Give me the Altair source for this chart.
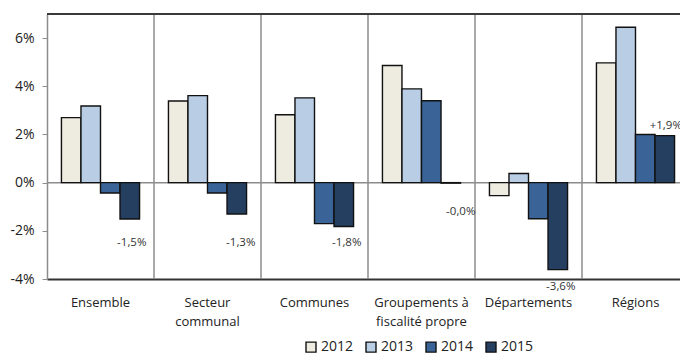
import altair as alt
import pandas as pd

categories = ["Ensemble", "Secteur communal", "Communes",
              "Groupements à fiscalité propre", "Départements", "Régions"]
two_line = {"Secteur communal": ["Secteur", "communal"],
            "Groupements à fiscalité propre": ["Groupements à", "fiscalité propre"]}
years = ["2012", "2013", "2014", "2015"]
v2012 = [2.70, 3.39, 2.82, 4.86, -0.54, 4.97]
v2013 = [3.18, 3.61, 3.52, 3.89, 0.38, 6.45]
v2014 = [-0.43, -0.43, -1.70, 3.40, -1.50, 2.00]
v2015 = [-1.51, -1.30, -1.82, -0.02, -3.61, 1.95]
colors = ["#EEECE1", "#B9CDE5", "#3A6497", "#243F60"]

label_text = ["-1,5%", "-1,3%", "-1,8%", "-0,0%", "-3,6%", "+1,9%"]
label_y = [-2.5, -2.5, -2.5, -1.22, -4.33, 2.37]
label_dx = [2, 4, 3, 10, 3, 1]

FONT = "Open Sans"
W, H = 633, 265
STEP_RANGE = 642
P_IN = 0.27
P_OUT = P_IN / 2

rows = []
for yr, vals in zip(years, [v2012, v2013, v2014, v2015]):
    for c, v in zip(categories, vals):
        rows.append({"cat": c, "year": yr, "v": v})
df = pd.DataFrame(rows)

lab = pd.DataFrame({"cat": categories, "year": "2015", "t": label_text,
                    "ly": label_y, "dx": label_dx})
sep = pd.DataFrame({"cat": categories[1:]})

label_expr = "datum.value"
for k, parts in two_line.items():
    label_expr = f"datum.value == '{k}' ? {parts!r} : (" + label_expr + ")"

xscale = alt.Scale(domain=categories, range=[0, STEP_RANGE],
                   paddingInner=P_IN, paddingOuter=P_OUT)
xoff_scale = alt.Scale(domain=years, paddingInner=0, paddingOuter=0)
yscale = alt.Scale(domain=[-4, 7], nice=False, zero=False)

x_enc = alt.X("cat:N", scale=xscale, sort=categories,
              axis=alt.Axis(title=None, labelExpr=label_expr, labelAngle=0,
                            labelAlign="center",
                            ticks=False, labelPadding=17, labelFontSize=13,
                            labelFont=FONT, labelColor="#222",
                            labelLineHeight=19, domainColor="#333",
                            domainWidth=2, labelBaseline="top"))
y_enc = alt.Y("v:Q", scale=yscale,
              axis=alt.Axis(title=None, values=[-4, -2, 0, 2, 4, 6],
                            labelExpr="datum.value + '%'", grid=False,
                            tickSize=5, tickColor="#8c8c8c", tickWidth=1,
                            domainColor="#8c8c8c", domainWidth=1.5,
                            labelFontSize=14, labelFont=FONT,
                            labelColor="#222", labelPadding=8))

zero = alt.Chart(pd.DataFrame({"z": [0]})).mark_rule(
    color="#8c8c8c", strokeWidth=1.5
).encode(y=alt.Y("z:Q", scale=yscale), x=alt.value(0), x2=alt.value(W))

seps = alt.Chart(sep).mark_rule(color="#8c8c8c", strokeWidth=1.5,
                                xOffset=-P_OUT * STEP_RANGE / 6).encode(
    x=alt.X("cat:N", scale=xscale, sort=categories, bandPosition=0),
    y=alt.value(0), y2=alt.value(H))

top = alt.Chart(pd.DataFrame({"z": [0]})).mark_rule(
    color="#3a3a3a", strokeWidth=2
).encode(y=alt.value(0), x=alt.value(0), x2=alt.value(W))

bars = alt.Chart(df).mark_bar(stroke="#111", strokeWidth=1.4).encode(
    x=x_enc,
    xOffset=alt.XOffset("year:N", scale=xoff_scale),
    y=y_enc,
    color=alt.Color("year:N", scale=alt.Scale(domain=years, range=colors),
                    legend=alt.Legend(title=None, orient="none",
                                      direction="horizontal",
                                      legendX=257, legendY=326, padding=0,
                                      symbolType="square", symbolSize=100,
                                      symbolStrokeColor="#111",
                                      symbolStrokeWidth=1.4,
                                      labelFontSize=14, labelFont=FONT,
                                      labelColor="#222", labelOffset=3,
                                      columnPadding=9)),
)

text_layers = []
for i, c in enumerate(categories):
    sub = lab[lab["cat"] == c]
    text_layers.append(
        alt.Chart(sub).mark_text(fontSize=11.5, font=FONT, color="#333",
                                 baseline="middle", align="center",
                                 dx=int(sub["dx"].iloc[0])).encode(
            x=alt.X("cat:N", scale=xscale, sort=categories),
            xOffset=alt.XOffset("year:N", scale=xoff_scale),
            y=alt.Y("ly:Q", scale=yscale),
            text="t:N",
        )
    )

chart = alt.layer(zero, seps, bars, top, *text_layers).properties(
    width=W, height=H,
    autosize=alt.AutoSizeParams(type="none"),
    padding={"left": 47, "top": 14, "right": 0, "bottom": 75},
).configure_view(stroke=None).configure(background="white")

chart.save("out.html", embed_options={"renderer": "svg", "actions": False})
